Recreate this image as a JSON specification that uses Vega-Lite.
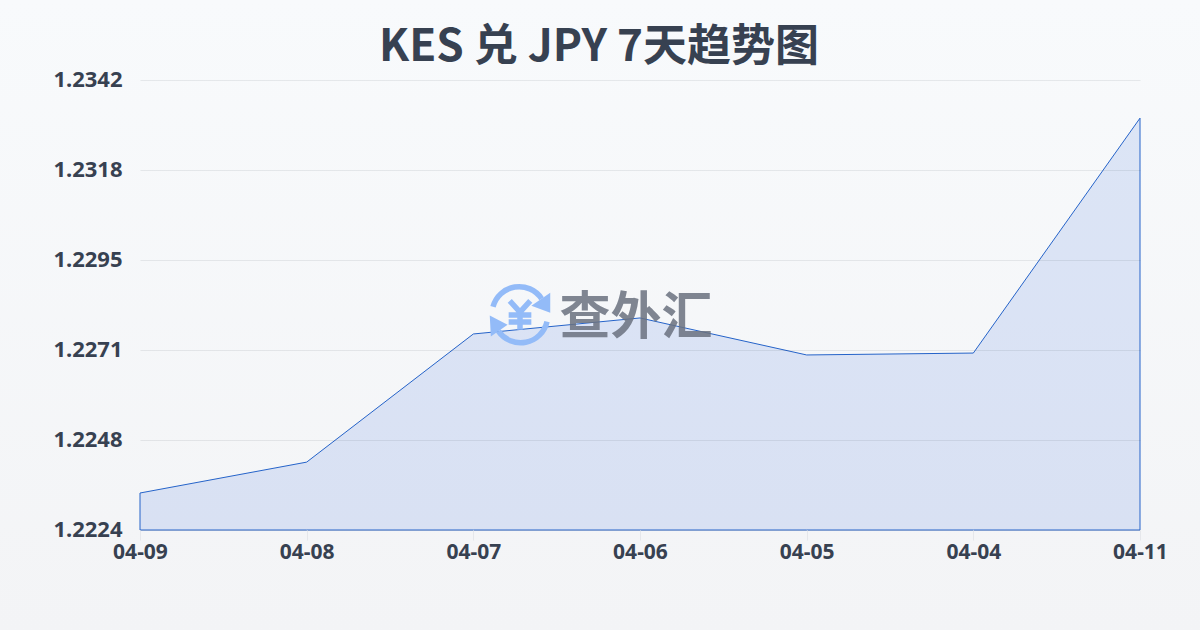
{"$schema":"https://vega.github.io/schema/vega-lite/v6.json","width":1000,"height":450,"autosize":{"type":"none"},"padding":{"left":140,"top":80,"right":60,"bottom":100},
"background":"#f6f8fa",
"title":{"text":"KES 兑 JPY 7天趋势图","font":"Noto Sans CJK SC","fontSize":44,"fontWeight":"bold","color":"#374151","anchor":"middle","dx":-41,"offset":-70,"zindex":1},
"config":{"view":{"stroke":null},"font":"Noto Sans"},
"data":{"values":[{"date":"04-09","rate":1.22337},{"date":"04-08","rate":1.22418},{"date":"04-07","rate":1.22754},{"date":"04-06","rate":1.22796},{"date":"04-05","rate":1.22699},{"date":"04-04","rate":1.22704},{"date":"04-11","rate":1.2332}]},
"encoding":{"x":{"field":"date","type":"ordinal","sort":null,"scale":{"type":"point","padding":0,"domain":["04-09","04-08","04-07","04-06","04-05","04-04","04-11"]},"axis":{"title":null,"zindex":1,"labelAngle":0,"labelFont":"Noto Sans","labelFontSize":21,"labelFontWeight":"bold","labelColor":"#374151","tickColor":"#e5e7eb","tickSize":10,"domain":false,"labelPadding":1,"grid":false}},
"y":{"field":"rate","type":"quantitative","scale":{"domain":[1.2224,1.2342],"nice":false,"zero":false},"axis":{"title":null,"zindex":1,"values":[1.2224,1.22476,1.22712,1.22948,1.23184,1.2342],"format":".4f","labelFont":"Noto Sans","labelFontSize":22,"labelFontWeight":"bold","labelColor":"#374151","labelOffset":-1,"gridColor":"#111827","gridOpacity":0.08,"ticks":false,"domain":false,"labelPadding":18}}},
"layer":[
{"data":{"values":[{"date":"04-09","date2":"04-11","rate":1.2363,"rate2":1.21978}]},"mark":{"type":"rect","xOffset":-140,"x2Offset":60,"fill":{"gradient":"linear","x1":0,"y1":0,"x2":0,"y2":1,"stops":[{"offset":0,"color":"#f8fafc"},{"offset":1,"color":"#f3f4f6"}]}},"encoding":{"x2":{"field":"date2"},"y2":{"field":"rate2"}}},
{"mark":{"type":"area","fill":"#4172df","fillOpacity":0.15,"stroke":"#2563c9","strokeWidth":1},"encoding":{"y2":{"datum":1.2224}}},
{"data":{"values":[{"date":"04-06","rate":1.22804}]},"mark":{"type":"point","xOffset":-120,"size":2916,"filled":false,"fill":null,"stroke":"#93bbf8","strokeWidth":5.5,"opacity":1,"shape":"M -1 -0.3 A 1 1 0 0 1 0.8 -0.6 M 1 0.25 A 1 1 0 0 1 -0.8 0.6 M -0.38 -0.52 L 0 -0.1 L 0.38 -0.52 M -0.42 0 L 0.42 0 M -0.42 0.26 L 0.42 0.26 M 0 -0.1 L 0 0.55"}},
{"data":{"values":[{"date":"04-06","rate":1.22804}]},"mark":{"type":"point","xOffset":-120,"size":2916,"filled":true,"fill":"#93bbf8","opacity":1,"shape":"M 1.12 -0.82 L 1.12 -0.08 L 0.42 -0.34 Z M -1.12 0.02 L -0.46 0.36 L -1.08 0.8 Z"}},
{"data":{"values":[{"date":"04-06","rate":1.2281,"label":"查外汇"}]},"mark":{"type":"text","font":"Noto Sans CJK SC","fontSize":51,"fontWeight":"bold","color":"#6b7280","opacity":0.85,"dx":-4,"dy":6},"encoding":{"text":{"field":"label"}}}
]}
